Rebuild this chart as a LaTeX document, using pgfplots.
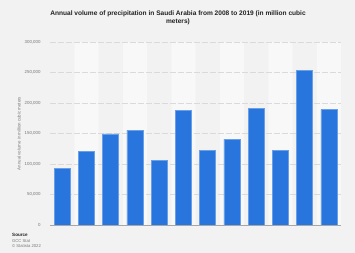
\documentclass[border=0pt]{standalone}
\usepackage{pgfplots}
\pgfplotsset{compat=1.18}
\usepackage{fontspec}
\setmainfont{Liberation Sans}
\definecolor{bg}{HTML}{F2F2F2}
\definecolor{band}{HTML}{F8F8F8}
\definecolor{barblue}{HTML}{2876DD}
\definecolor{txt}{HTML}{222222}
\definecolor{tick}{HTML}{777777}
\definecolor{gridc}{HTML}{DADADA}
\begin{document}
\begin{tikzpicture}[x=1bp,y=1bp]
\useasboundingbox (0,0) rectangle (355,253);
\fill[bg] (0,0) rectangle (355,253);
\path (178,235) node[font=\bfseries\fontsize{6.6}{8.2}\selectfont, text=txt, align=center] {Annual volume of precipitation in Saudi Arabia from 2008 to 2019 (in million cubic\\meters)};
\path (12,20) node[anchor=north west, inner sep=0, font=\bfseries\fontsize{4.6}{5.5}\selectfont, text=txt] {Source};
\path (12,14) node[anchor=north west, inner sep=0, font=\fontsize{4.2}{5.2}\selectfont, text=tick, align=left] {GCC Stat\\\copyright\ Statista 2022};
\path (19,119.5) node[rotate=90, font=\fontsize{4.4}{5}\selectfont, text=tick] {Annual volume in million cubic meters};
\begin{axis}[
  at={(50bp,28bp)}, anchor=south west,
  scale only axis, width=291bp, height=183bp,
  xmin=-0.5, xmax=11.5, ymin=0, ymax=300000,
  xtick=\empty,
  ytick={0,50000,100000,150000,200000,250000,300000},
  yticklabels={0,{50,000},{100,000},{150,000},{200,000},{250,000},{300,000}},
  scaled y ticks=false,
  yticklabel style={font=\fontsize{4.4}{5}\selectfont, text=tick, xshift=-6bp},
  /pgf/number format/assume math mode=true,
  axis line style={draw=none},
  major tick length=0pt,
  clip=false,
]
\addplot[ybar, bar width=1, fill=band, draw=none] coordinates {(1,300000) (3,300000) (5,300000) (7,300000) (9,300000) (11,300000)};
\draw[dash pattern=on 6bp off 2bp, gridc, line width=0.6pt] (axis cs:-0.5,50000) -- (axis cs:11.5,50000);
\draw[dash pattern=on 6bp off 2bp, gridc, line width=0.6pt] (axis cs:-0.5,100000) -- (axis cs:11.5,100000);
\draw[dash pattern=on 6bp off 2bp, gridc, line width=0.6pt] (axis cs:-0.5,150000) -- (axis cs:11.5,150000);
\draw[dash pattern=on 6bp off 2bp, gridc, line width=0.6pt] (axis cs:-0.5,200000) -- (axis cs:11.5,200000);
\draw[dash pattern=on 6bp off 2bp, gridc, line width=0.6pt] (axis cs:-0.5,250000) -- (axis cs:11.5,250000);
\draw[dash pattern=on 6bp off 2bp, gridc, line width=0.6pt] (axis cs:-0.5,300000) -- (axis cs:11.5,300000);
\addplot[ybar, bar width=16bp, fill=barblue, draw=barblue!70!white, line width=0.4pt] coordinates {
(0,92900) (1,121200) (2,149500) (3,155400) (4,106500) (5,187500)
(6,122800) (7,140800) (8,191300) (9,122800) (10,253300) (11,189700)};
\draw[black!35, line width=0.6pt] (axis cs:-0.5,0) -- (axis cs:11.5,0);
\end{axis}
\end{tikzpicture}
\end{document}
